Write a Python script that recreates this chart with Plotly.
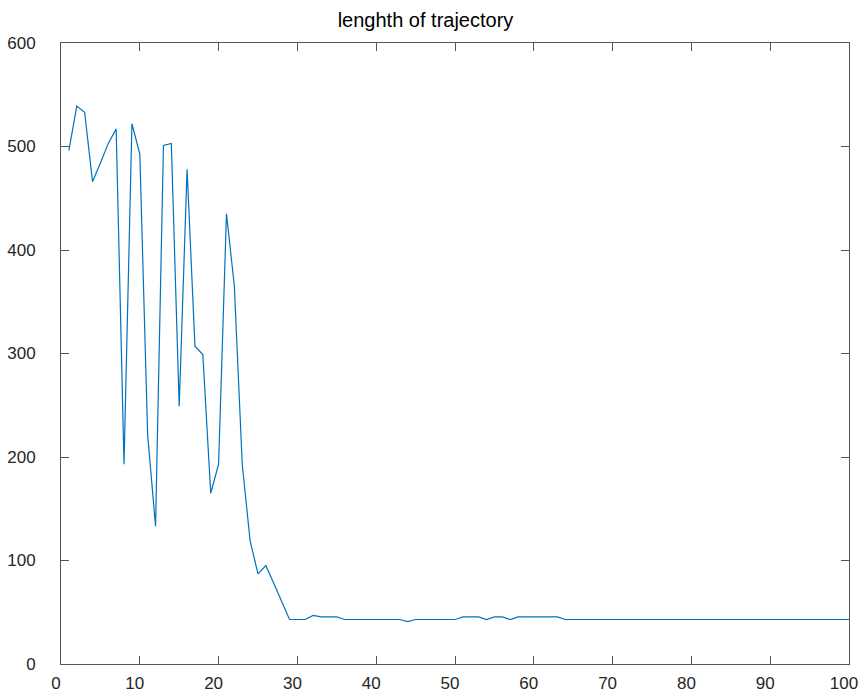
import plotly.graph_objects as go

iterations = list(range(1, 101))
lengths = [
    496, 539, 533, 466, 484, 503, 517, 193, 522, 493,
    221, 133, 501, 503, 249, 478, 307, 299, 165, 193,
    435, 365, 193, 119, 87, 95, 78, 61, 43, 43,
    43, 47, 45.5, 45.5, 45.5, 43, 43, 43, 43, 43,
    43, 43, 43, 41, 43, 43, 43, 43, 43, 43,
    45.5, 45.5, 45.5, 43, 45.5, 45.5, 43, 45.5, 45.5, 45.5,
    45.5, 45.5, 45.5, 43, 43, 43, 43, 43, 43, 43,
    43, 43, 43, 43, 43, 43, 43, 43, 43, 43,
    43, 43, 43, 43, 43, 43, 43, 43, 43, 43,
    43, 43, 43, 43, 43, 43, 43, 43, 43, 43,
]
x_ticks = [0, 10, 20, 30, 40, 50, 60, 70, 80, 90, 100]
y_ticks = [0, 100, 200, 300, 400, 500, 600]

W, H = 861, 698

fig = go.Figure()
fig.add_trace(go.Scatter(
    x=iterations, y=lengths, mode="lines",
    line=dict(color="#0072BD", width=1.2),
    showlegend=False,
))

axis_common = dict(
    showline=True, linecolor="#555555", linewidth=1,
    mirror="ticks", ticks="inside", ticklen=8, tickcolor="#555555", tickwidth=1,
    showgrid=False, zeroline=False, automargin=False,
    ticklabeloverflow="allow",
    tickfont=dict(family="Liberation Sans, Arial, sans-serif", size=17, color="#262626"),
)

fig.update_layout(
    width=W, height=H,
    margin=dict(l=61, r=12, t=43, b=34),
    paper_bgcolor="white", plot_bgcolor="white",
    title=dict(
        text="lenghth of trajectory",
        x=425.5 / W, xanchor="center",
        y=1 - 20 / H, yanchor="middle",
        font=dict(family="Liberation Sans, Arial, sans-serif", size=20, color="#000000"),
    ),
    xaxis=dict(range=[0, 100], tickvals=x_ticks, ticklabelstandoff=4,
               ticklabelshift=-5, **axis_common),
    yaxis=dict(range=[0, 600], tickvals=y_ticks, ticklabelstandoff=21, **axis_common),
)

fig.write_html(
    "out.html",
    config={"displayModeBar": False},
    post_script="document.body.style.margin='0';document.body.style.overflow='hidden';",
)
